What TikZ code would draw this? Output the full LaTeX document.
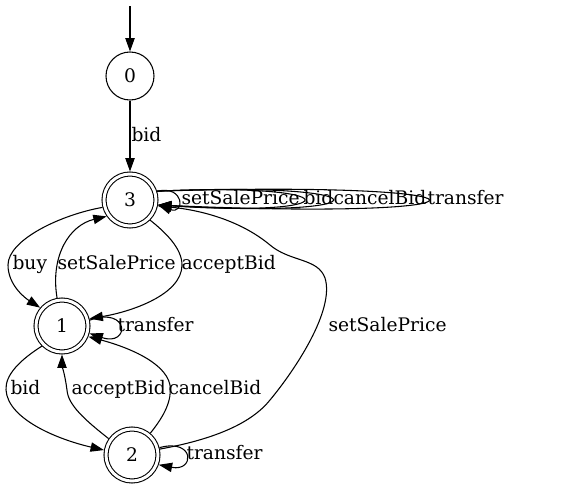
\documentclass[tikz,border=0pt]{standalone}
\usepackage{fontspec}
\setmainfont{DejaVu Serif}
\usetikzlibrary{arrows.meta}
\begin{document}
\begin{tikzpicture}[x=0.75pt,y=-0.75pt,
  every path/.style={line width=0.8pt},
  state/.style={circle,draw,line width=0.8pt,inner sep=0pt,minimum size=36pt,font=\fontsize{14}{16}\selectfont},
  accepting/.style={state,double,double distance=2.2pt,minimum size=39pt,outer sep=1.9pt},
  lbl/.style={anchor=west,inner sep=0pt,font=\fontsize{14}{16}\selectfont,text height=1.6ex,text depth=.3ex},
  edge/.style={draw,-{Triangle[length=10pt,width=7pt]}}]
\useasboundingbox (0,0) rectangle (583,489);
\node[state] (n0) at (130,76) {0};
\node[accepting] (n3) at (130,200) {3};
\node[accepting] (n1) at (62,326) {1};
\node[accepting] (n2) at (132,455) {2};
\coordinate (start) at (130,6);
% start
\path[edge] (start) -- (n0);
% 0 -> 3
\path[edge] (n0) -- (n3);
\node[lbl] (l03) at (131,137) {bid};
% 3 self loops
\path[edge] (n3.18) .. controls (185,185) and (185,215) .. (n3.-10);
\path[edge] (n3.18) .. controls (352,182) and (352,218) .. (n3.-10);
\path[edge] (n3.18) .. controls (390,181) and (390,219) .. (n3.-10);
\path[edge] (n3.18) .. controls (518,180) and (518,221) .. (n3.-10);
\node[lbl] (l33a) at (181,200) {setSalePrice};
\node[lbl] (l33b) at (303,200) {bid};
\node[lbl] (l33c) at (333,200) {cancelBid};
\node[lbl] (l33d) at (427,200) {transfer};
% 3 -> 1 buy
\path[edge] (n3.195) .. controls (60,215) and (8,240) .. (8,265) .. controls (8,285) and (25,298) .. (n1.140);
\node[lbl] (l31a) at (12,265) {buy};
% 1 -> 3 setSalePrice
\path[edge] (n1.100) .. controls (50,255) and (70,225) .. (n3.215);
\node[lbl] (l13) at (57,265) {setSalePrice};
% 3 -> 1 acceptBid
\path[edge] (n3.-45) .. controls (165,232) and (182,248) .. (182,265) .. controls (182,295) and (130,312) .. (n1.15);
\node[lbl] (l31b) at (181,265) {acceptBid};
% 1 self loop
\path[edge] (n1.12) .. controls (130,306) and (130,347) .. (n1.-15);
\node[lbl] (l11) at (117,327) {transfer};
% 1 -> 2 bid
\path[edge] (n1.-135) .. controls (20,360) and (5,375) .. (6,390) .. controls (8,420) and (60,440) .. (n2.170);
\node[lbl] (l12) at (10,390) {bid};
% 2 -> 1 acceptBid
\path[edge] (n2.145) .. controls (85,420) and (68,405) .. (67,390) .. controls (65,375) and (62,365) .. (n1.-90);
\node[lbl] (l21a) at (71,390) {acceptBid};
% 2 -> 1 cancelBid
\path[edge] (n2.50) .. controls (165,415) and (172,400) .. (170,385) .. controls (165,360) and (120,345) .. (n1.-22);
\node[lbl] (l21b) at (168,390) {cancelBid};
% 2 self loop
\path[edge] (n2.15) .. controls (195,438) and (195,472) .. (n2.-20);
\node[lbl] (l22) at (186,455) {transfer};
% 2 -> 3 setSalePrice
\path[edge] (n2.12) .. controls (210,440) and (250,425) .. (270,400) .. controls (295,370) and (335,310) .. (325,278) .. controls (318,258) and (290,262) .. (270,245) .. controls (240,220) and (200,210) .. (n3.-12);
\node[lbl] (l23) at (328,327) {setSalePrice};
\end{tikzpicture}
\end{document}
